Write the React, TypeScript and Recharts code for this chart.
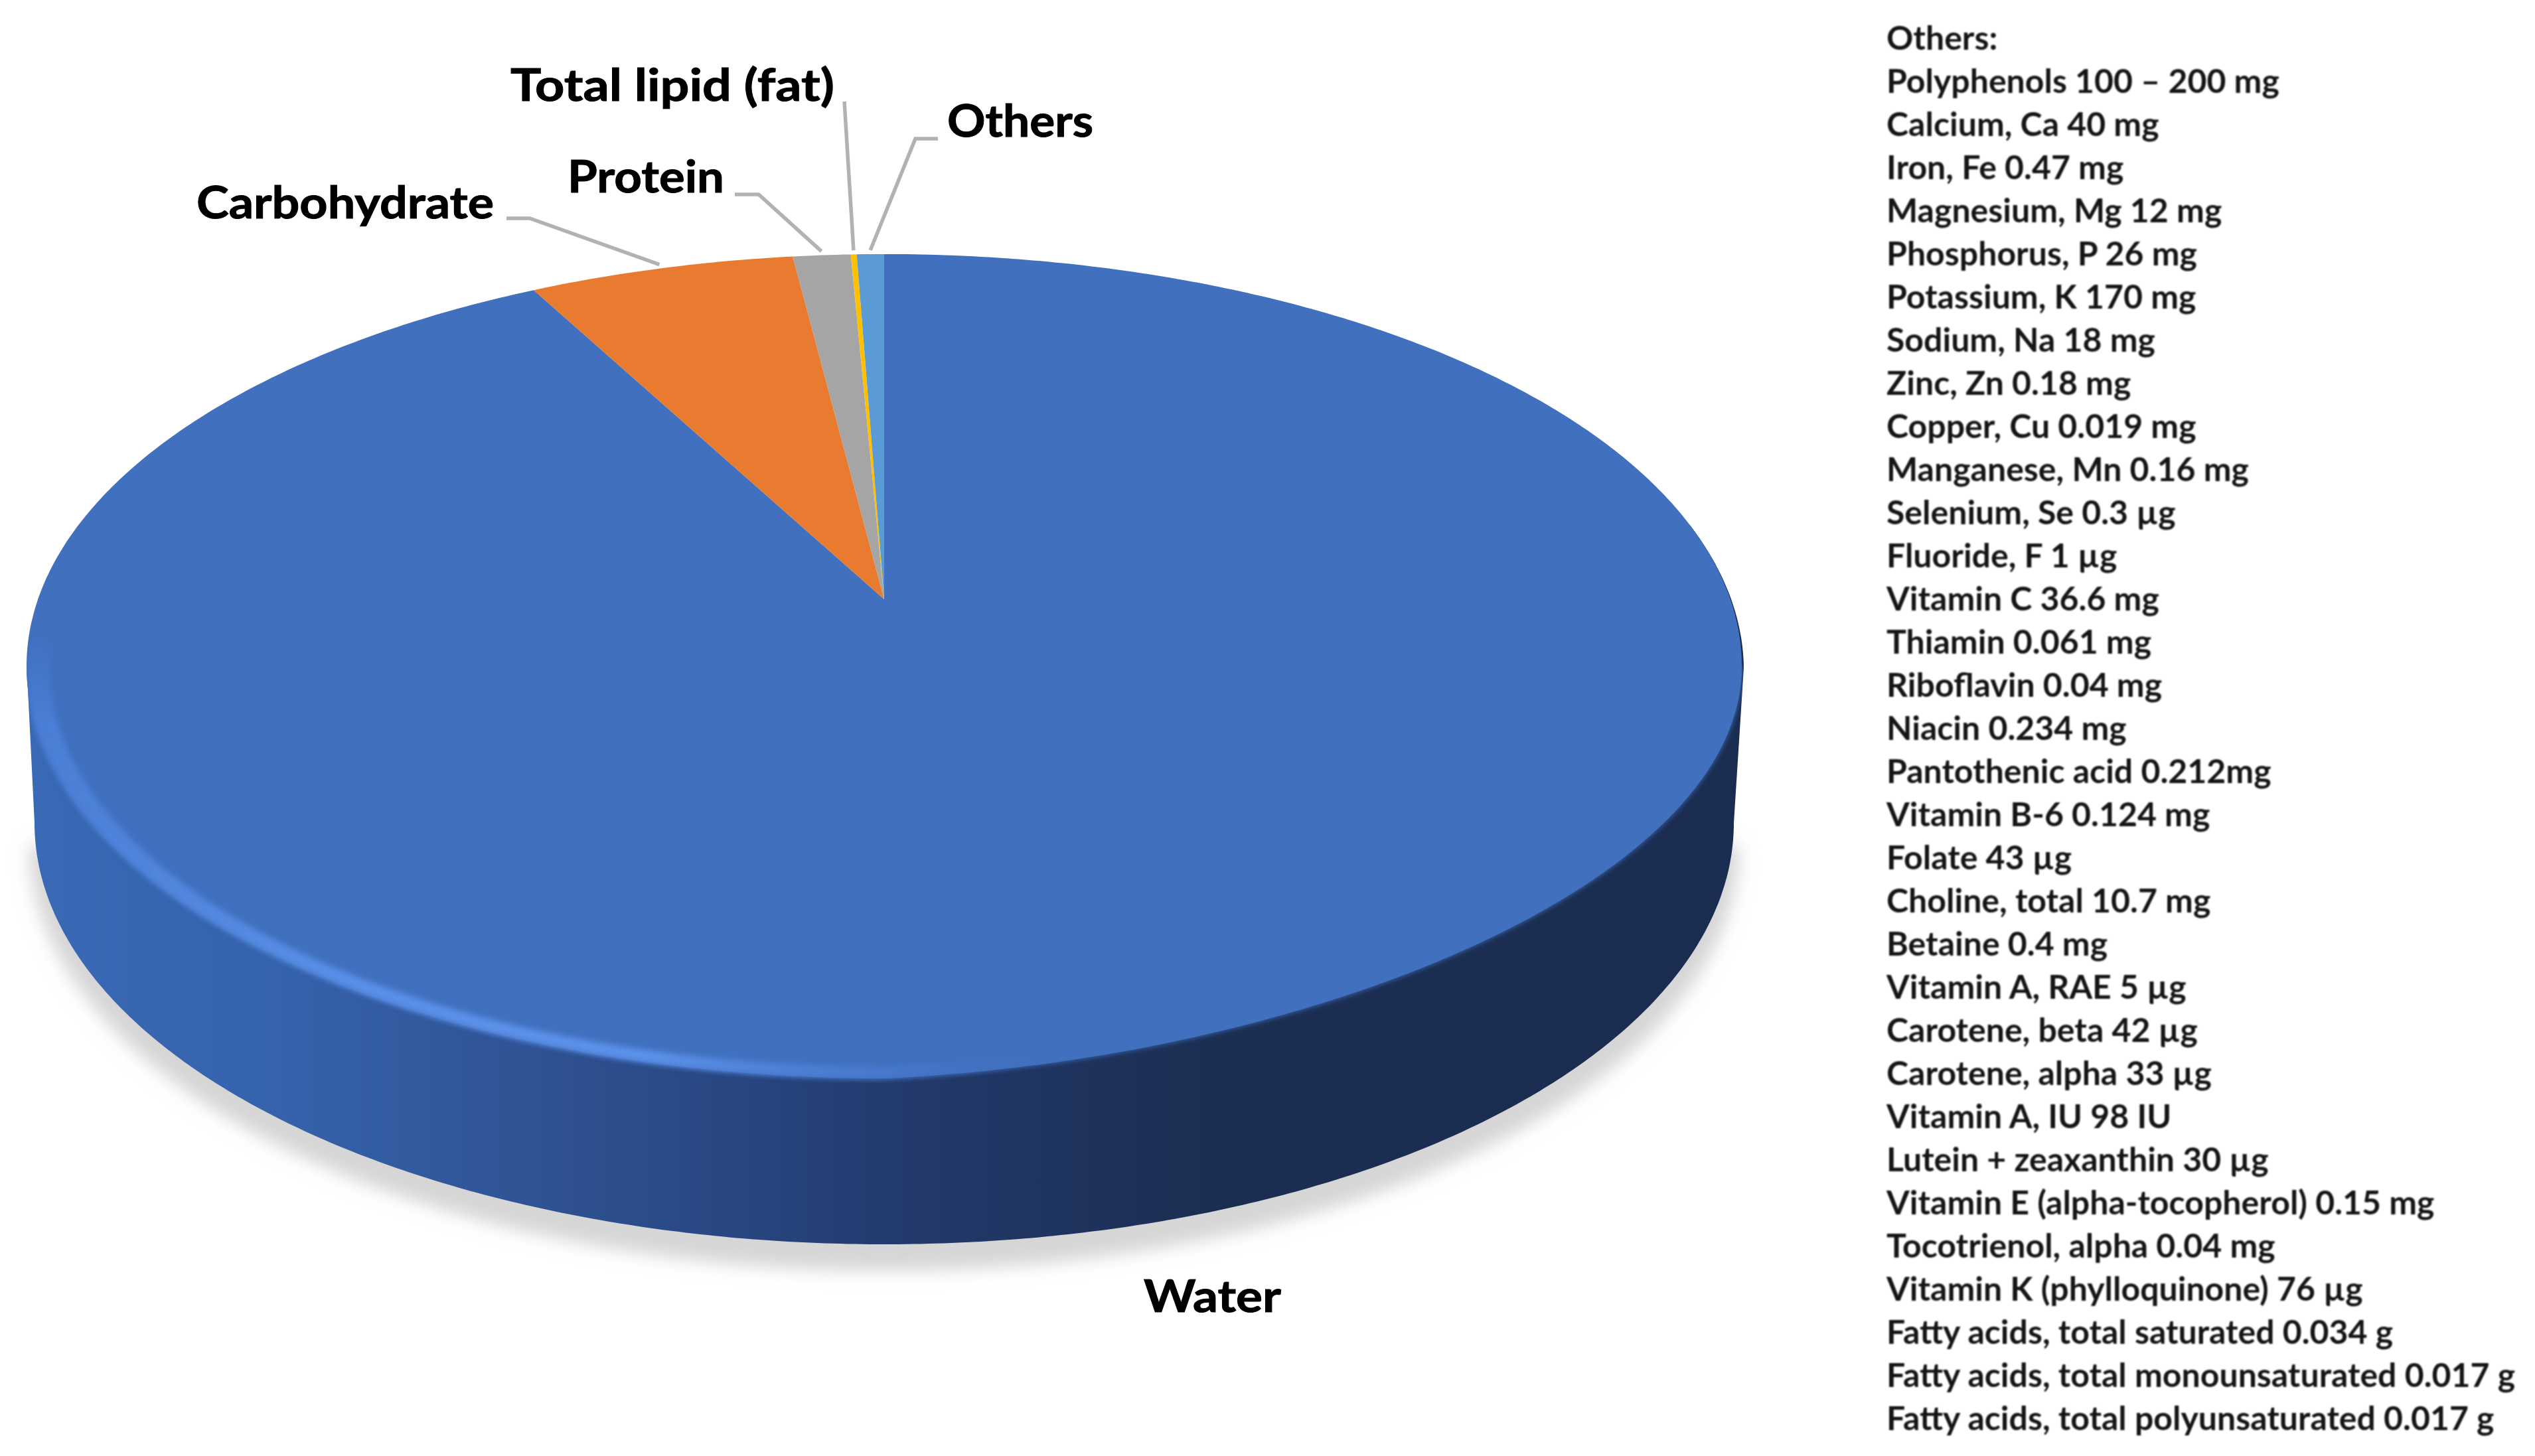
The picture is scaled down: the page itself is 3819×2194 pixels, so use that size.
import React from 'react';
import { PieChart, Pie, Cell } from 'recharts';

const categories = ['Water', 'Carbohydrate', 'Protein', 'Total lipid (fat)', 'Others'];
const shares = [93.3, 5.0, 1.08, 0.11, 0.51];
const colors = ['#4170bf', '#e97b30', '#a5a5a5', '#ffc000', '#5b9bd5'];

const othersLines = [
  'Others:',
  'Polyphenols 100 – 200 mg',
  'Calcium, Ca 40 mg',
  'Iron, Fe 0.47 mg',
  'Magnesium, Mg 12 mg',
  'Phosphorus, P 26 mg',
  'Potassium, K 170 mg',
  'Sodium, Na 18 mg',
  'Zinc, Zn 0.18 mg',
  'Copper, Cu 0.019 mg',
  'Manganese, Mn 0.16 mg',
  'Selenium, Se 0.3 µg',
  'Fluoride, F 1 µg',
  'Vitamin C 36.6 mg',
  'Thiamin 0.061 mg',
  'Riboflavin 0.04 mg',
  'Niacin 0.234 mg',
  'Pantothenic acid 0.212mg',
  'Vitamin B-6 0.124 mg',
  'Folate 43 µg',
  'Choline, total 10.7 mg',
  'Betaine 0.4 mg',
  'Vitamin A, RAE 5 µg',
  'Carotene, beta 42 µg',
  'Carotene, alpha 33 µg',
  'Vitamin A, IU 98 IU',
  'Lutein + zeaxanthin 30 µg',
  'Vitamin E (alpha-tocopherol) 0.15 mg',
  'Tocotrienol, alpha 0.04 mg',
  'Vitamin K (phylloquinone) 76 µg',
  'Fatty acids, total saturated 0.034 g',
  'Fatty acids, total monounsaturated 0.017 g',
  'Fatty acids, total polyunsaturated 0.017 g',
];

const tableData = categories.map((name, i) => ({ name, value: shares[i] }));

// Layout of the tilted disc
const CX = 1332;
const CY = 1004;
const RX = 1292;
const SQUASH = 0.4807;
const APEX_LIFT = 101;
const TILT = 60;
const WALL = { dy: 236, rx: 1280, ry: 635 };

const FONT = 'Lato, Carlito, sans-serif';

// Label layout: left edge, baseline, width, elbow of the leader line
const labelLayout = [
  { x: 1723, y: 1977, w: 207, elbow: null },
  { x: 296, y: 329, w: 448, elbow: [[763, 329], [798, 329]] },
  { x: 855, y: 290, w: 236, elbow: [[1107, 293], [1143, 293]] },
  { x: 769, y: 152, w: 488, elbow: [[1272, 153]] },
  { x: 1427, y: 206, w: 220, elbow: [[1413, 209], [1379, 209]] },
];

const onDisc = (cx: number, cy: number, rx: number, ry: number, deg: number, tilt = 0) => {
  const r = (deg * Math.PI) / 180;
  const c = Math.cos(r);
  const s = -Math.sin(r);
  return [cx + rx * c, cy + ry * s - (s > 0 && c > 0 ? tilt * c * s : 0)];
};

const sample = (from: number, to: number, fn: (d: number) => number[]) => {
  const n = Math.max(2, Math.ceil(Math.abs(to - from) * 2));
  const out: number[][] = [];
  for (let i = 0; i <= n; i++) out.push(fn(from + ((to - from) * i) / n));
  return out;
};

const toPath = (pts: number[][]) => pts.map((p, i) => `${i ? 'L' : 'M'}${p[0].toFixed(1)} ${p[1].toFixed(1)}`).join(' ');

const wallStops = [
  [0, '#3a69b6'],
  [0.15, '#3562ab'],
  [0.3, '#2f5293'],
  [0.43, '#27447e'],
  [0.52, '#22396a'],
  [0.59, '#1f3460'],
  [0.69, '#1b2e52'],
  [1, '#1a2c50'],
];

const SectorShape = (props: any) => {
  const { cx, cy, outerRadius, startAngle, endAngle, fill, index } = props;
  const ry = outerRadius * SQUASH;
  const rim = sample(startAngle, endAngle, (d) => onDisc(cx, cy, outerRadius, ry, d, TILT));
  const top = `M${cx} ${cy - APEX_LIFT} ${toPath(rim).replace(/^M/, 'L')} Z`;
  if (index !== 0) return <path d={top} fill={fill} stroke="none" />;

  const wallRim = sample(180, 360, (d) => onDisc(cx, cy + WALL.dy, WALL.rx, WALL.ry, d));
  const sliver = sample(0, 20, (d) => onDisc(cx + (3 * (20 - d)) / 20, cy + (2 * (20 - d)) / 20, outerRadius, ry, d));
  const wall = `M${cx - outerRadius + 1} ${cy + 14} ${toPath(wallRim).replace(/^M/, 'L')} ${toPath(sliver).replace(/^M/, 'L')} L${cx} ${cy} Z`;
  const shadowRim = sample(180, 360, (d) => onDisc(cx, cy + WALL.dy + 34, WALL.rx + 8, WALL.ry + 6, d));
  const lowerHalf = sample(180, 360, (d) => onDisc(cx, cy, outerRadius, ry, d, TILT));
  const bandOuter = sample(176, 300, (d) => onDisc(cx, cy, outerRadius, ry, d, TILT));
  const bandInner = sample(300, 176, (d) => onDisc(cx, cy, outerRadius - 34, ry - 18, d, TILT));
  const band = `${toPath(bandOuter)} ${toPath(bandInner).replace(/^M/, 'L')} Z`;

  return (
    <g>
      <defs>
        <linearGradient id="wallFill" gradientUnits="userSpaceOnUse" x1={cx - outerRadius} x2={cx + outerRadius} y1="0" y2="0">
          {wallStops.map(([o, c]) => (
            <stop key={o as number} offset={o as number} stopColor={c as string} />
          ))}
        </linearGradient>
        <linearGradient id="bevelFill" gradientUnits="userSpaceOnUse" x1={cx - outerRadius} x2={cx + outerRadius} y1="0" y2="0">
          <stop offset="0" stopColor="#4b7ed5" />
          <stop offset="0.2" stopColor="#5a90e8" />
          <stop offset="0.36" stopColor="#5c92ea" />
          <stop offset="0.5" stopColor="#4a7cd2" stopOpacity="0.7" />
          <stop offset="0.6" stopColor="#4170bf" stopOpacity="0" />
        </linearGradient>
        <linearGradient id="bevelFade" gradientUnits="userSpaceOnUse" x1="0" x2="0" y1={cy - 50} y2={cy + 90}>
          <stop offset="0" stopColor="#000000" />
          <stop offset="1" stopColor="#ffffff" />
        </linearGradient>
        <mask id="bevelMask" maskUnits="userSpaceOnUse" x="0" y="0" width="3819" height="2194">
          <rect x="0" y="0" width="3819" height="2194" fill="url(#bevelFade)" />
        </mask>
        <clipPath id="discClip">
          <path d={top} />
          <path d={wall} />
        </clipPath>
        <filter id="softShadow" x="-5%" y="-5%" width="110%" height="110%">
          <feGaussianBlur stdDeviation="13" />
        </filter>
        <filter id="softEdge" x="-5%" y="-5%" width="110%" height="110%">
          <feGaussianBlur stdDeviation="4" />
        </filter>
      </defs>
      <path d={`${toPath(shadowRim)} Z`} fill="#d6d6d6" filter="url(#softShadow)" />
      <path d={wall} fill="url(#wallFill)" />
      <g clipPath="url(#discClip)">
        <path d={`${toPath(lowerHalf)} Z`} fill={fill} filter="url(#softEdge)" />
      </g>
      <path d={top} fill={fill} />
      <g clipPath="url(#discClip)">
        <g mask="url(#bevelMask)">
          <path d={band} fill="url(#bevelFill)" filter="url(#softEdge)" />
        </g>
      </g>
    </g>
  );
};

const renderLabel = (props: any) => {
  const { index, midAngle, cx, cy, outerRadius } = props;
  const layout = labelLayout[index];
  let leader = null;
  if (layout.elbow) {
    const end = onDisc(cx, cy, outerRadius + 6, outerRadius * SQUASH + 6, midAngle);
    leader = (
      <polyline
        points={[...layout.elbow, end].map((p) => p.join(',')).join(' ')}
        fill="none"
        stroke="#b2b2b2"
        strokeWidth={5.5}
      />
    );
  }
  return (
    <g key={index}>
      {leader}
      <text
        x={layout.x}
        y={layout.y}
        fontFamily={FONT}
        fontWeight={700}
        fontSize={66}
        fill="#000000"
        stroke="#000000"
        strokeWidth={1}
        textLength={layout.w}
        lengthAdjust="spacingAndGlyphs"
        style={{ filter: 'blur(0.7px)' }}
      >
        {categories[index]}
      </text>
    </g>
  );
};

export default function App() {
  return (
    <div style={{ position: 'absolute', left: 0, top: 0, width: 3819, height: 2194, background: '#ffffff', overflow: 'hidden' }}>
      <PieChart width={3819} height={2194} margin={{ top: 0, right: 0, bottom: 0, left: 0 }}>
        <Pie
          data={tableData}
          dataKey="value"
          nameKey="name"
          cx={CX}
          cy={CY}
          outerRadius={RX}
          innerRadius={0}
          startAngle={90}
          endAngle={-270}
          paddingAngle={0}
          stroke="none"
          isAnimationActive={false}
          shape={SectorShape}
          label={renderLabel}
          labelLine={false}
        >
          {tableData.map((d, i) => (
            <Cell key={d.name} fill={colors[i]} />
          ))}
        </Pie>
      </PieChart>
      {othersLines.map((line, i) => (
        <div
          key={line}
          style={{
            position: 'absolute',
            left: 2842,
            top: 56 + i * 65 - 32,
            height: 64,
            lineHeight: '64px',
            fontFamily: FONT,
            fontWeight: 700,
            fontSize: 50,
            color: '#151515',
            whiteSpace: 'nowrap',
            filter: 'blur(1.1px)',
          }}
        >
          {line}
        </div>
      ))}
    </div>
  );
}
